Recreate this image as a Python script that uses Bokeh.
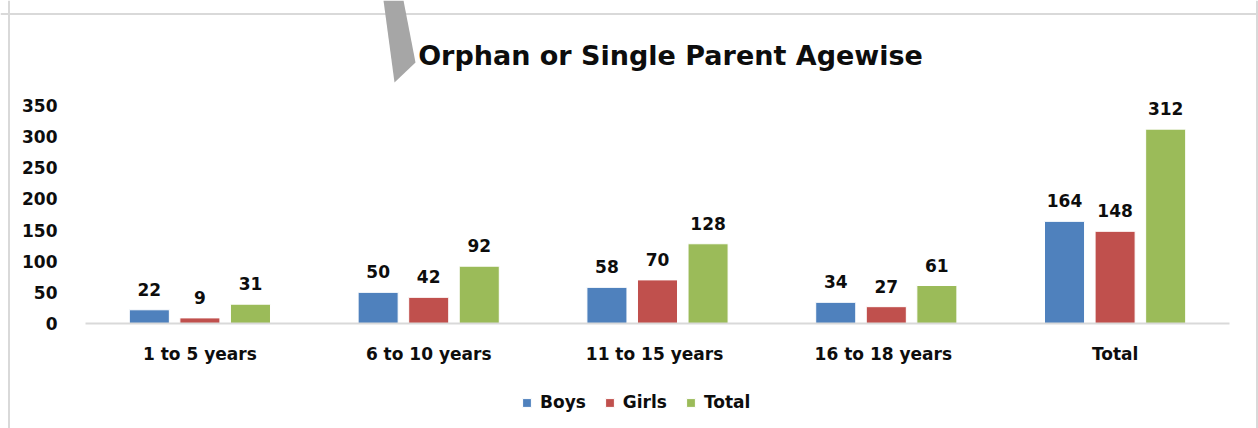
from bokeh.plotting import figure
from bokeh.models import (ColumnDataSource, Range1d, FixedTicker, LabelSet, Label,
                          Legend, LegendItem, PolyAnnotation, LinearAxis, Span)
from bokeh.core.properties import value
from bokeh.embed import file_html
from bokeh.resources import INLINE

categories = ["1 to 5 years", "6 to 10 years", "11  to 15 years", "16 to  18 years", "Total"]
series_names = ["Boys", "Girls", "Total"]
boys = [22, 50, 58, 34, 164]
girls = [9, 42, 70, 27, 148]
total = [31, 92, 128, 61, 312]
y_ticks = [0, 50, 100, 150, 200, 250, 300, 350]
title_text = "Orphan or Single Parent Agewise"

colors = ["#4f81bd", "#c0504d", "#9bbb59"]
values = [boys, girls, total]
offsets = [-0.221, 0.0, 0.221]
FONT = "DejaVu Sans"
TXT = "#0d0d0d"
GRID = "#d9d9d9"

n = len(categories)
centers = [i + 0.5 for i in range(n)]

# pixel geometry of the page (figure occupies 0..W, 0..H of the screenshot)
OX, OY = 0, 0
W, H = 1258, 428
X0_PX, Y0_PX = 85, 323          # page pixel where data (0, 0) sits
PX_X = 228.8                     # pixels per category
PX_Y = 0.6229                    # pixels per unit of count
x_start = -(X0_PX - OX) / PX_X
x_end = (OX + W - X0_PX) / PX_X
y_start = -(OY + H - Y0_PX) / PX_Y
y_end = (Y0_PX - OY) / PX_Y

def to_data(px, py):
    return (px - X0_PX) / PX_X, (Y0_PX - py) / PX_Y

p = figure(width=W, height=H, output_backend="svg", toolbar_location=None,
           x_range=Range1d(x_start, x_end), y_range=Range1d(y_start, y_end),
           x_axis_location=None, y_axis_location=None,
           min_border=0, min_border_left=0, min_border_right=0,
           min_border_top=0, min_border_bottom=0)
p.outline_line_color = None
p.xgrid.visible = False
p.ygrid.visible = False
p.background_fill_color = "white"
p.border_fill_color = "white"

# chart border (top, left, right)
bl, bt = to_data(8.5, 13.5)
br, _ = to_data(1256.5, 13.5)
for loc, dim in [(bl, "height"), (br, "height")]:
    p.add_layout(Span(location=loc, dimension=dim, line_color=GRID, line_width=2))
p.add_layout(Span(location=bt, dimension="width", line_color=GRID, line_width=2))

# decorative grey arrow shape (from the reference screenshot)
shape = [to_data(*pt) for pt in [(383, 0), (403, 0), (415, 62), (394, 82)]]
p.add_layout(PolyAnnotation(xs=[s[0] for s in shape], ys=[s[1] for s in shape],
                            fill_color="#a6a6a6", fill_alpha=1.0, line_color=None))

renderers = []
for name, vals, col, off in zip(series_names, values, colors, offsets):
    src = ColumnDataSource(dict(x=[c + off for c in centers], top=vals,
                                lab=[str(v) for v in vals]))
    r = p.vbar(x="x", top="top", width=0.175, bottom=0, source=src,
               fill_color=col, line_color="white", line_width=1)
    renderers.append((name, r))
    ls = LabelSet(x="x", y="top", text="lab", source=src, text_align="center",
                  text_baseline="alphabetic", y_offset=14,
                  text_font=value(FONT), text_font_style="bold", text_font_size="17px",
                  text_color=TXT)
    p.add_layout(ls)

# x axis at y = 0
xaxis = LinearAxis(fixed_location=0, bounds=(0, n))
xaxis.ticker = FixedTicker(ticks=centers)
xaxis.major_label_overrides = {c: cat for c, cat in zip(centers, categories)}
xaxis.major_tick_line_color = None
xaxis.minor_tick_line_color = None
xaxis.axis_line_color = GRID
xaxis.axis_line_width = 2
xaxis.major_label_standoff = 14
xaxis.major_label_text_font = FONT
xaxis.major_label_text_font_style = "bold"
xaxis.major_label_text_font_size = "17px"
xaxis.major_label_text_color = TXT
p.add_layout(xaxis, "below")

# y axis at x = 0
yaxis = LinearAxis(fixed_location=0, bounds=(0, 350))
yaxis.ticker = FixedTicker(ticks=y_ticks)
yaxis.axis_line_color = None
yaxis.major_tick_line_color = None
yaxis.minor_tick_line_color = None
yaxis.major_label_standoff = 22
yaxis.major_label_text_font = FONT
yaxis.major_label_text_font_style = "bold"
yaxis.major_label_text_font_size = "17px"
yaxis.major_label_text_color = TXT
p.add_layout(yaxis, "left")

# title
tx, ty = to_data(670, 55)
p.add_layout(Label(x=tx, y=ty, text=title_text, text_align="center",
                   text_baseline="middle", text_font=FONT, text_font_style="bold",
                   text_font_size="27px", text_color=TXT))

legend = Legend(items=[LegendItem(label=nm, renderers=[r]) for nm, r in renderers],
                orientation="horizontal", location=(521 - X0_PX + X0_PX - OX, H - 412 + OY),
                label_text_font=FONT, label_text_font_style="bold",
                label_text_font_size="17px", label_text_color=TXT,
                glyph_width=11, glyph_height=11, label_standoff=8, spacing=18,
                border_line_color=None, background_fill_alpha=0,
                margin=0, padding=0)
p.add_layout(legend, "center")

open("out.html", "w").write(file_html(p, INLINE))
